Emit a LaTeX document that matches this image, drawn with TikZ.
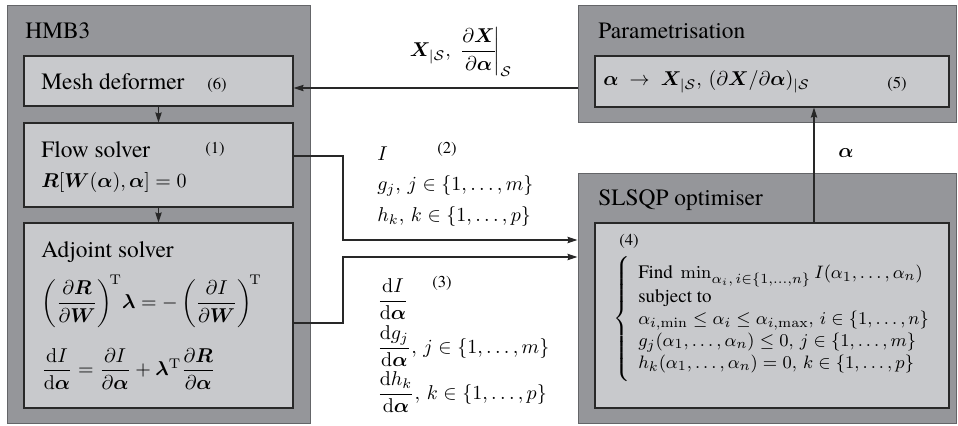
\documentclass[tikz,border=0pt]{standalone}
\usepackage{amsmath,amssymb}
\usepackage{bm}
\usepackage[no-math]{fontspec}
\setmainfont{texgyretermes-regular.otf}[BoldFont=texgyretermes-bold.otf, ItalicFont=texgyretermes-italic.otf, BoldItalicFont=texgyretermes-bolditalic.otf]
\usetikzlibrary{fit,arrows.meta}
\definecolor{outergrey}{RGB}{149,150,154}
\definecolor{innergrey}{RGB}{200,201,204}
\definecolor{outerline}{RGB}{100,101,104}
\definecolor{innerline}{RGB}{40,40,40}
\tikzset{
  outerbox/.style={draw=outerline, fill=outergrey, line width=0.5pt, inner sep=0pt},
  innerbox/.style={draw=innerline, fill=innergrey, line width=0.6pt, inner sep=0pt},
  titletext/.style={anchor=base west, inner sep=0pt, font=\fontsize{11.7}{14}\selectfont},
  numtext/.style={anchor=base west, inner sep=0pt, font=\fontsize{8.3}{10}\selectfont},
  mathtext/.style={inner sep=0pt, font=\fontsize{10}{12}\selectfont},
  conn/.style={draw=innerline, line width=0.6pt},
  arr/.style={conn, -{Stealth[length=5pt,width=3.2pt,inset=0.6pt]}},
}
\begin{document}
\begin{tikzpicture}[x=0.5pt,y=-0.5pt]
\useasboundingbox (0,0) rectangle (958,425);
% HMB3
\node[outerbox, fit={(7,5)(310,423)}] (hmb) {};
\node[innerbox, fit={(24,56)(293,106)}] (mesh) {};
\node[innerbox, fit={(24,123)(293,207)}] (flow) {};
\node[innerbox, fit={(24,223)(293,408)}] (adj) {};
% Parametrisation
\node[outerbox, fit={(578,5)(956,122)}] (pout) {};
\node[innerbox, fit={(595,56)(949,107)}] (pin) {};
% SLSQP
\node[outerbox, fit={(578,173)(956,423)}] (sout) {};
\node[innerbox, fit={(595,223)(949,408)}] (sin) {};

% titles
\node[titletext] (t1) at (25,38) {HMB3};
\node[titletext] (t2) at (41,89) {Mesh deformer};
\node[numtext] (n6) at (207,89) {(6)};
\node[titletext] (t3) at (41,157) {Flow solver};
\node[numtext] (n1) at (205,153) {(1)};
\node[mathtext, anchor=base west] (e1) at (41,187) {$\bm R[\bm W(\bm\alpha),\bm\alpha]=0$};
\node[titletext] (t4) at (41,257) {Adjoint solver};
\node[mathtext, anchor=west] (e2) at (41,301) {$\left(\dfrac{\partial\bm R}{\partial\bm W}\right)^{\!\mathrm T}\!\bm\lambda=-\left(\dfrac{\partial I}{\partial\bm W}\right)^{\!\mathrm T}$};
\node[mathtext, anchor=west] (e3) at (41,369) {$\dfrac{\mathrm dI}{\mathrm d\bm\alpha}=\dfrac{\partial I}{\partial\bm\alpha}+\bm\lambda^{\mathrm T}\dfrac{\partial\bm R}{\partial\bm\alpha}$};

\node[titletext] (t5) at (598,38) {Parametrisation};
\node[mathtext, anchor=west] (e4) at (603,82) {$\bm\alpha\;\rightarrow\;\bm X_{|\mathcal S},\,(\partial\bm X/\partial\bm\alpha)_{|\mathcal S}$};
\node[numtext] (n5) at (887,88) {(5)};

\node[titletext] (t6) at (598,205) {SLSQP optimiser};
\node[numtext] (n4) at (619,245) {(4)};
\node[mathtext, anchor=west, font=\fontsize{9.5}{11}\selectfont] (e5) at (613,319) {\delimitershortfall=-7pt$\left\{\begin{array}{@{\hspace{4pt}}l@{}}
\text{Find }\min_{\alpha_i,\,i\in\{1,\ldots,n\}} I(\alpha_1,\ldots,\alpha_n)\\
\text{subject to}\\
\alpha_{i,\min}\le\alpha_i\le\alpha_{i,\max},\, i\in\{1,\ldots,n\}\\
g_j(\alpha_1,\ldots,\alpha_n)\le 0,\, j\in\{1,\ldots,m\}\\
h_k(\alpha_1,\ldots,\alpha_n)=0,\, k\in\{1,\ldots,p\}
\end{array}\right.$};

% middle labels
\node[mathtext] (lx) at (461,52) {$\bm X_{|\mathcal S},\,\left.\dfrac{\partial\bm X}{\partial\bm\alpha}\!\right|_{\mathcal S}$};
\node[mathtext, anchor=base west] (li) at (377,160) {$I$};
\node[numtext] (n2) at (437,153) {(2)};
\node[mathtext, anchor=base west] (lg) at (377,190) {$g_j,\, j\in\{1,\ldots,m\}$};
\node[mathtext, anchor=base west] (lh) at (377,221) {$h_k,\, k\in\{1,\ldots,p\}$};
\node[mathtext, anchor=base west] (ldi) at (377,306) {$\dfrac{\mathrm dI}{\mathrm d\bm\alpha}$};
\node[numtext] (n3) at (432,287) {(3)};
\node[mathtext, anchor=base west] (ldg) at (377,353) {$\dfrac{\mathrm dg_j}{\mathrm d\bm\alpha},\, j\in\{1,\ldots,m\}$};
\node[mathtext, anchor=base west] (ldh) at (377,399) {$\dfrac{\mathrm dh_k}{\mathrm d\bm\alpha},\, k\in\{1,\ldots,p\}$};
\node[mathtext, anchor=base west] (la) at (838,157) {$\bm\alpha$};

% connectors
\coordinate (yarr) at (0,88);
\coordinate (yflow) at (0,156);
\coordinate (yadj) at (0,323);
\coordinate (ya) at (0,240);
\coordinate (yb) at (0,257);
\coordinate (xa) at (814,0);
\draw[arr] (pout.west |- yarr) -- (mesh.east |- yarr);
\draw[arr] (mesh.south) -- (flow.north);
\draw[arr] (flow.south) -- (adj.north);
\draw[arr] (flow.east |- yflow) -- (343,156) -- (343,240) -- (sout.west |- ya);
\draw[arr] (adj.east |- yadj) -- (343,323) -- (343,257) -- (sout.west |- yb);
\draw[arr] (sin.north -| xa) -- (pin.south -| xa);
\end{tikzpicture}
\end{document}
